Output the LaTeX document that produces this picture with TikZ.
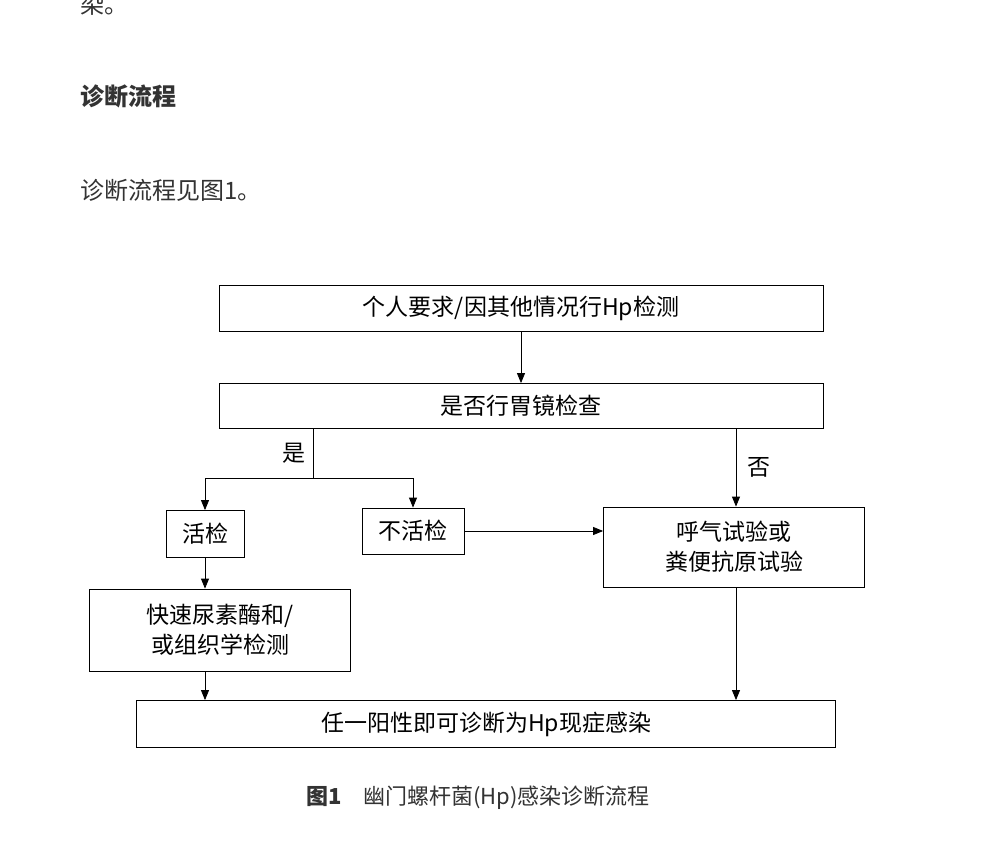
\documentclass[tikz,border=0pt]{standalone}
\usepackage{fontspec}
\setmainfont{Noto Sans CJK SC}
\newfontfamily\cjkserif{Noto Sans CJK SC}
\usetikzlibrary{arrows.meta,positioning}
\definecolor{pagetext}{HTML}{333333}
\tikzset{
  box/.style={rectangle, draw, thick, align=center, font=\fontsize{23}{30}\selectfont, inner sep=0pt},
  arrow/.style={-{Triangle[length=10pt,width=8pt]}, thick},
  pagetxt/.style={anchor=west, text=pagetext, font=\fontsize{24}{28}\selectfont, inner sep=0pt}
}
\begin{document}
\begin{tikzpicture}[x=1pt, y=-1pt]
  \clip (0,0) rectangle (994,856);
  \fill[white] (0,0) rectangle (994,856);

  % ----- Page text -----
  \node[pagetxt] (prev) at (80,4) {染。};
  \node[pagetxt, font=\fontsize{24}{28}\selectfont\bfseries] (head) at (80,96) {诊断流程};
  \node[pagetxt] (para) at (80,190) {诊断流程见图1。};

  % ----- Boxes -----
  \node[box, minimum width=604pt, minimum height=46pt] (req) at (521,308) {个人要求/因其他情况行Hp检测};
  \node[box, minimum width=604pt, minimum height=45pt] (gastro) at (521,406) {是否行胃镜检查};
  \node[box, minimum width=78pt, minimum height=47pt] (biopsy) at (205,534) {活检};
  \node[box, minimum width=102pt, minimum height=46pt] (nobiopsy) at (413,531) {不活检};
  \node[box, minimum width=261pt, minimum height=80pt] (breath) at (734,547) {呼气试验或\\粪便抗原试验};
  \node[box, minimum width=261pt, minimum height=82pt] (urease) at (220,630) {快速尿素酶和/\\或组织学检测};
  \node[box, minimum width=699pt, minimum height=47pt] (result) at (486,724) {任一阳性即可诊断为Hp现症感染};

  \coordinate (split) at (313,478);

  % ----- Arrows -----
  \draw[arrow] (req.south) -- (gastro.north);
  \draw[thick] (gastro.south -| split) -- node[left=4pt, font=\fontsize{23}{28}\selectfont] {是} (split);
  \draw[thick] (split -| biopsy.south) -- (split -| nobiopsy.north);
  \draw[arrow] (split -| biopsy.south) -- (biopsy.north);
  \draw[arrow] (split -| nobiopsy.north) -- (nobiopsy.north);
  \draw[arrow] (gastro.south -| 736,0) -- node[right=8pt, font=\fontsize{23}{28}\selectfont] {否} (breath.north -| 736,0);
  \draw[arrow] (nobiopsy.east) -- (breath.west |- nobiopsy.east);
  \draw[arrow] (biopsy.south) -- (urease.north -| biopsy.south);
  \draw[arrow] (urease.south -| biopsy.south) -- (result.north -| biopsy.south);
  \draw[arrow] (breath.south -| 736,0) -- (result.north -| 736,0);

  % ----- Caption -----
  \node[font=\fontsize{22}{26}\selectfont, text=pagetext] (caption) at (478,798) {\textbf{图1}\quad 幽门螺杆菌(Hp)感染诊断流程};
\end{tikzpicture}
\end{document}
